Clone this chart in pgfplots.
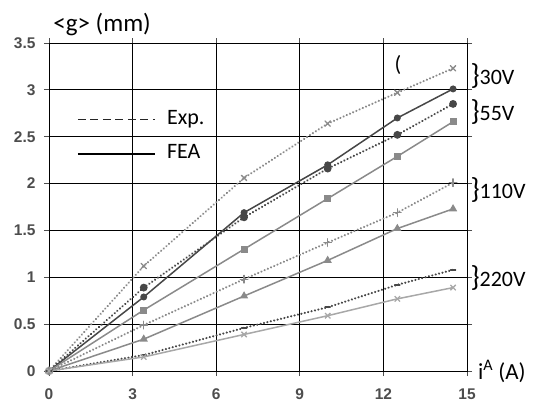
\documentclass[border=0pt]{standalone}
\usepackage{fontspec}
\setmainfont{Carlito}
\newfontfamily\arialfont{Liberation Sans}
\usepackage{pgfplots}
\pgfplotsset{compat=1.18}
\definecolor{dk}{HTML}{474747}
\definecolor{md}{HTML}{8A8A8A}
\definecolor{lt}{HTML}{A8A8A8}
\definecolor{tk}{HTML}{4D4D4D}
\pgfplotsset{
  exp/.style={dash pattern=on 0.1pt off 3.4pt, line cap=round, line width=2.3pt},
  fea/.style={solid, line width=1.5pt},
}
\begin{document}
\begin{tikzpicture}
\useasboundingbox (-49pt,-34pt) rectangle (484pt,371pt);
\begin{axis}[
  at={(0,0)}, anchor=south west,
  scale only axis, width=418pt, height=328pt,
  xmin=0, xmax=15, ymin=0, ymax=3.5,
  xtick={0,3,6,9,12,15}, ytick={0,0.5,1,1.5,2,2.5,3,3.5},
  grid=major, grid style={black, line width=0.9pt},
  axis line style={black, line width=0.9pt},
  tick align=outside, major tick length=5pt,
  tick style={tk, line width=0.8pt},
  /pgf/number format/assume math mode=true,
  tick label style={font=\arialfont\bfseries\fontsize{15.5}{15.5}\selectfont, text=tk},
  xticklabel style={yshift=-9pt},
  yticklabel style={xshift=-5pt},
  clip=false,
]
% 30V
\addplot[md, exp, mark=x, mark size=3.8pt, mark options={solid, line width=1.3pt}]
  coordinates {(0,0) (3.4,1.12) (7,2.06) (10,2.64) (12.5,2.97) (14.5,3.23)};
\addplot[dk, fea, mark=*, mark size=2.7pt, mark options={solid}]
  coordinates {(0,0) (3.4,0.79) (7,1.69) (10,2.20) (12.5,2.70) (14.5,3.01)};
% 55V
\addplot[dk, exp, mark=*, mark size=2.7pt, mark options={solid}]
  coordinates {(0,0) (3.4,0.89) (7,1.64) (10,2.16) (12.5,2.52) (14.5,2.85)};
\addplot[md, fea, mark=square*, mark size=2.7pt, mark options={solid}]
  coordinates {(0,0) (3.4,0.65) (7,1.30) (10,1.84) (12.5,2.29) (14.5,2.66)};
% 110V
\addplot[md, exp, mark=+, mark size=3.8pt, mark options={solid, line width=1.3pt}]
  coordinates {(0,0) (3.4,0.49) (7,0.98) (10,1.37) (12.5,1.69) (14.5,2.01)};
\addplot[md, fea, mark=triangle*, mark size=3.3pt, mark options={solid}]
  coordinates {(0,0) (3.4,0.34) (7,0.80) (10,1.18) (12.5,1.52) (14.5,1.73)};
% 220V
\addplot[dk, exp, mark=-, mark size=2.5pt, mark options={solid, line width=1.6pt}]
  coordinates {(0,0) (3.4,0.17) (7,0.46) (10,0.68) (12.5,0.92) (14.5,1.08)};
\addplot[lt, fea, mark=x, mark size=3.8pt, mark options={solid, line width=1.3pt}]
  coordinates {(0,0) (3.4,0.15) (7,0.39) (10,0.59) (12.5,0.77) (14.5,0.89)};

% legend
\draw[black!85, line width=1.3pt, dash pattern=on 8pt off 4.5pt] (axis cs:1.04,2.68) -- (axis cs:3.8,2.68);
\node[anchor=base west, inner sep=0pt, font=\fontsize{22}{22}\selectfont] at (axis cs:4.23,2.63) {Exp.};
\draw[black, line width=2pt] (axis cs:1.04,2.32) -- (axis cs:3.8,2.32);
\node[anchor=base west, inner sep=0pt, font=\fontsize{22}{22}\selectfont] at (axis cs:4.23,2.27) {FEA};

% labels
\node[anchor=base west, inner sep=0pt, font=\fontsize{25}{25}\selectfont] at (axis cs:0.15,3.62) {<g> (mm)};
\node[anchor=base west, inner sep=0pt, font=\fontsize{23}{23}\selectfont] at (axis cs:15.39,-0.096) {i\textsuperscript{A} (A)};
\node[inner sep=0pt, font=\fontsize{22}{22}\selectfont] at (axis cs:12.52,3.27) {(};
\node[anchor=west, inner sep=0pt, font=\fontsize{22}{22}\selectfont] at (axis cs:15.12,3.15) {{\fontsize{29}{29}\selectfont\}}30V};
\node[anchor=west, inner sep=0pt, font=\fontsize{22}{22}\selectfont] at (axis cs:15.12,2.76) {{\fontsize{29}{29}\selectfont\}}55V};
\node[anchor=west, inner sep=0pt, font=\fontsize{22}{22}\selectfont] at (axis cs:15.12,1.93) {{\fontsize{29}{29}\selectfont\}}110V};
\node[anchor=west, inner sep=0pt, font=\fontsize{22}{22}\selectfont] at (axis cs:15.12,0.99) {{\fontsize{29}{29}\selectfont\}}220V};
\end{axis}
\end{tikzpicture}
\end{document}
